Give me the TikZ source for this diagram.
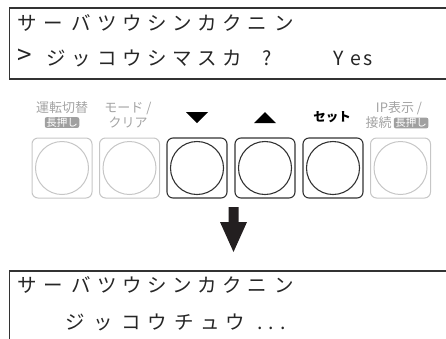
\documentclass[tikz,border=0pt]{standalone}
\usepackage{fontspec}
\setmainfont{Noto Sans CJK JP}
\usetikzlibrary{positioning}
\definecolor{lcdline}{HTML}{333333}
\definecolor{keyline}{HTML}{333333}
\definecolor{offline}{HTML}{C6C6C6}
\definecolor{offtext}{HTML}{A3A3A3}
\definecolor{badgefill}{HTML}{A0A0A0}
\definecolor{arrowfill}{HTML}{231F20}
\begin{document}
\begin{tikzpicture}[
    x=1bp, y=-1bp,
    lcdbox/.style={draw=lcdline, line width=1.2bp},
    lcdchar/.style={font=\fontsize{19.5bp}{20bp}\selectfont, inner sep=0pt, text height=0.88em, text depth=0.12em, text=black!85},
    keyframe/.style={rounded corners=6bp, minimum width=60bp, minimum height=60bp, inner sep=0pt},
    keyon/.style={keyframe, draw=keyline, line width=1.1bp},
    keyoff/.style={keyframe, draw=offline, line width=1bp},
    ringon/.style={circle, draw=keyline, line width=1.1bp, minimum size=53bp, inner sep=0pt},
    ringoff/.style={circle, draw=offline, line width=1bp, minimum size=53bp, inner sep=0pt},
    keylabel/.style={font=\fontsize{13bp}{14bp}\selectfont, text=offtext, inner sep=0pt},
    keyname/.style={font=\fontsize{12.5bp}{14bp}\selectfont\bfseries, inner sep=0pt},
    holdbadge/.style={fill=badgefill, rounded corners=2bp, text=white, font=\fontsize{10.5bp}{11bp}\selectfont, inner xsep=1.5bp, inner ysep=0.5bp}
]
    \useasboundingbox (0,0) rectangle (446,338);
    \clip (0,0) rectangle (446,338);

    % upper display
    \draw[lcdbox] (460,8) -- (9.5,8) -- (9.5,79) -- (460,79);
    \foreach \x/\c [count=\i] in {27/サ,53/ー,81/バ,107/ツ,132/ウ,157/シ,182/ン,207/カ,232/ク,257/ニ,284/ン}
        \node[lcdchar] (upA\i) at (\x,27) {\c};
    \node[lcdchar, font=\fontsize{26bp}{26bp}\selectfont] (upCursor) at (25,61) {>};
    \foreach \x/\c [count=\i] in {56/ジ,81/ッ,107/コ,132/ウ,157/シ,182/マ,207/ス,232/カ,267/?,339/Y,356/e,368/s}
        \node[lcdchar] (upB\i) at (\x,62) {\c};

    % key labels
    \node[keylabel] (modeTop) at (62,108) {運転切替};
    \node[holdbadge] (modeHold) at (62,122.5) {長押し};
    \node[keylabel] (clearTop) at (128,108) {モード /};
    \node[keylabel] (clearBot) at (128,123) {クリア};
    \fill (186,112) -- (208,112) -- (197,123) -- cycle;
    \fill (254,123) -- (276,123) -- (265,112) -- cycle;
    \node[keyname] (setName) at (332,117) {セット};
    \node[keylabel] (ipTop) at (399,108) {IP表示 /};
    \node[keylabel] (ipBot) at (378.5,123) {接続};
    \node[holdbadge, right=2bp of ipBot] (ipHold) {長押し};

    % keys
    \node[keyoff] (kMode) at (62,168) {};
    \node[ringoff] at (kMode) {};
    \node[keyoff] (kClear) at (129.5,168) {};
    \node[ringoff] at (kClear) {};
    \node[keyon] (kDown) at (197,168) {};
    \node[ringon] at (kDown) {};
    \node[keyon] (kUp) at (265,168) {};
    \node[ringon] at (kUp) {};
    \node[keyon] (kSet) at (333,168) {};
    \node[ringon] at (kSet) {};
    \node[keyoff] (kIP) at (400.5,168) {};
    \node[ringoff] at (kIP) {};

    % big arrow
    \fill[arrowfill] (228.5,207) -- (238.5,207) -- (238.5,222) -- (247,222) -- (233.5,252)
        -- (220,222) -- (228.5,222) -- cycle;

    % lower display
    \draw[lcdbox] (460,271) -- (9.5,271) -- (9.5,345);
    \foreach \x/\c [count=\i] in {27/サ,53/ー,81/バ,107/ツ,132/ウ,157/シ,182/ン,207/カ,232/ク,257/ニ,284/ン}
        \node[lcdchar] (dnA\i) at (\x,289) {\c};
    \foreach \x/\c [count=\i] in {75/ジ,103/ッ,131/コ,157/ウ,184/チ,210/ュ,235/ウ,260/.,271.5/.,283/.}
        \node[lcdchar] (dnB\i) at (\x,326) {\c};
\end{tikzpicture}
\end{document}
